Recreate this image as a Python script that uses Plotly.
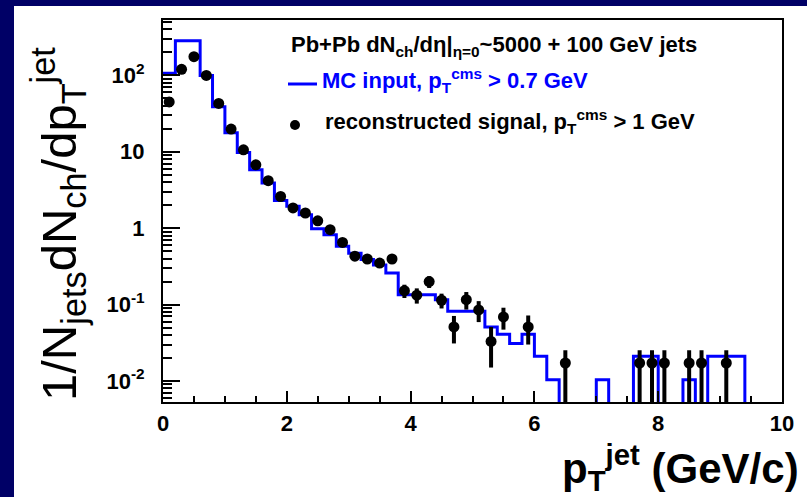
import plotly.graph_objects as go

# ---------------- data ----------------
# MC input histogram (bin low edges, bin width 0.2 GeV/c)
bin_edges = [0.0, 0.2, 0.4, 0.6, 0.8, 1.0, 1.2, 1.4, 1.6, 1.8, 2.0, 2.2, 2.4, 2.6, 2.8,
             3.0, 3.2, 3.4, 3.6, 3.8, 4.0, 4.2, 4.4, 4.6, 4.8, 5.0, 5.2, 5.4, 5.6, 5.8,
             6.0, 6.2, 6.4, 6.6, 6.8, 7.0, 7.2, 7.4, 7.6, 7.8, 8.0, 8.2, 8.4, 8.6, 8.8,
             9.0, 9.2, 9.4]
mc_values = [107, 285, 285, 100, 39, 17.8, 9.8, 5.8, 3.9, 2.3, 1.93, 1.5, 0.98, 0.82, 0.58,
             0.47, 0.39, 0.33, 0.26, 0.135, 0.135, 0.135, 0.116, 0.082, 0.082, 0.082, 0.051,
             0.041, 0.031, 0.041, 0.021, 0.0104, 0, 0, 0, 0.0104, 0, 0, 0.021, 0.021, 0, 0,
             0.0104, 0, 0.021, 0.021, 0.021]

# reconstructed signal points
reco_x = [0.1, 0.3, 0.5, 0.7, 0.9, 1.1, 1.3, 1.5, 1.7, 1.9, 2.1, 2.3, 2.5, 2.7, 2.9,
          3.1, 3.3, 3.5, 3.7, 3.9, 4.1, 4.3, 4.5, 4.7, 4.9, 5.1, 5.3, 5.5, 5.9, 6.5,
          7.7, 7.9, 8.1, 8.5, 8.7, 9.1]
reco_y = [45, 120, 176, 100, 43, 19.8, 10.6, 6.76, 4.18, 2.6, 1.84, 1.58, 1.25, 0.955, 0.65,
          0.43, 0.395, 0.35, 0.395, 0.152, 0.133, 0.2, 0.114, 0.051, 0.116, 0.085, 0.033,
          0.069, 0.051, 0.0172, 0.0172, 0.0172, 0.0172, 0.0172, 0.0172, 0.0172]
reco_err_up = [1, 2, 3, 2, 1, 0.6, 0.4, 0.3, 0.2, 0.15, 0.12, 0.1, 0.09, 0.08, 0.06,
               0.05, 0.05, 0.045, 0.05, 0.03, 0.03, 0.035, 0.025, 0.02, 0.03, 0.026, 0.018,
               0.022, 0.021, 0.008, 0.008, 0.008, 0.008, 0.008, 0.008, 0.008]
reco_err_dn = [1, 2, 3, 2, 1, 0.6, 0.4, 0.3, 0.2, 0.15, 0.12, 0.1, 0.09, 0.08, 0.06,
               0.05, 0.05, 0.045, 0.05, 0.03, 0.03, 0.035, 0.025, 0.02, 0.03, 0.026, 0.018,
               0.022, 0.021, 0.0171, 0.0171, 0.0171, 0.0171, 0.0171, 0.0171, 0.0171]

y_tickvals = [0.01, 0.1, 1, 10, 100]
y_ticktext = ["10<sup>-2</sup>", "10<sup>-1</sup>", "1", "10", "10<sup>2</sup>"]
x_tickvals = [0, 2, 4, 6, 8, 10]
x_ticktext = ["0", "2", "4", "6", "8", "10"]

# ---------------- layout geometry ----------------
W, H = 807, 497
L, R, T, B = 163, 25, 20, 95
PW, PH = W - L - R, H - T - B
NAVY = "#000066"
FONT = "Liberation Sans"


def px(xp):
    return (xp - L) / PW


def py(yp):
    return (H - B - yp) / PH


FLOOR = 1e-4  # empty bins drawn below the frame
hx = list(bin_edges)
hy = [v if v > 0 else FLOOR for v in mc_values] + [FLOOR]

fig = go.Figure()
fig.add_trace(go.Scatter(
    x=hx, y=hy, mode="lines", line=dict(color="#0000ff", width=3, shape="hv"),
    showlegend=False, hoverinfo="skip"))
fig.add_trace(go.Scatter(
    x=reco_x, y=reco_y, mode="markers",
    marker=dict(color="black", size=11, symbol="circle"),
    error_y=dict(type="data", symmetric=False, array=reco_err_up, arrayminus=reco_err_dn,
                 color="black", thickness=4, width=0),
    showlegend=False))

fig.update_layout(
    width=W, height=H,
    margin=dict(l=L, r=R, t=T, b=B, pad=0),
    paper_bgcolor="white", plot_bgcolor="white",
    font=dict(family=FONT, color="black"),
    xaxis=dict(range=[0, 10], showgrid=False, zeroline=False,
               showline=True, linecolor="black", linewidth=2, mirror=True,
               ticks="inside", ticklen=11, tickwidth=2, tickcolor="black",
               tickvals=x_tickvals, ticktext=x_ticktext,
               tickfont=dict(size=22, family=FONT, weight="bold"),
               ticklabelstandoff=1,
               minor=dict(ticks="inside", ticklen=6, tickwidth=2, tickcolor="black", dtick=0.5,
                          showgrid=False)),
    yaxis=dict(type="log", range=[-2.275, 2.725], showgrid=False, zeroline=False,
               showline=True, linecolor="black", linewidth=2, mirror=True,
               ticks="inside", ticklen=17, tickwidth=2, tickcolor="black",
               tickvals=y_tickvals, ticktext=y_ticktext,
               tickfont=dict(size=22, family=FONT, weight="bold"),
               ticklabelstandoff=12,
               minor=dict(ticks="inside", ticklen=9, tickwidth=2, tickcolor="black", dtick="D1",
                          showgrid=False)),
)

# navy border strips
fig.add_shape(type="rect", xref="paper", yref="paper", x0=px(0), x1=px(14), y0=py(H), y1=py(0),
              fillcolor=NAVY, line_width=0, layer="above")
fig.add_shape(type="rect", xref="paper", yref="paper", x0=px(0), x1=px(W), y0=py(6), y1=py(0),
              fillcolor=NAVY, line_width=0, layer="above")

# legend block
fig.add_annotation(xref="paper", yref="paper", x=px(289), y=py(46), xanchor="left", yanchor="middle",
                   showarrow=False,
                   text="Pb+Pb dN<sub>ch</sub>/dη|<sub>η=0</sub>~5000 + 100 GeV jets",
                   font=dict(size=22, family=FONT, weight="bold", color="black"))
fig.add_shape(type="line", xref="paper", yref="paper", x0=px(288), x1=px(317), y0=py(84), y1=py(84),
              line=dict(color="#0000ff", width=3))
fig.add_annotation(xref="paper", yref="paper", x=px(320), y=py(80), xanchor="left", yanchor="middle",
                   showarrow=False,
                   text="MC input, p<sub>T</sub><sup>cms</sup> > 0.7 GeV",
                   font=dict(size=22, family=FONT, weight="bold", color="#0000ff"))
fig.add_shape(type="circle", xref="paper", yref="paper", x0=px(290), x1=px(300), y0=py(120), y1=py(130),
              fillcolor="black", line_width=0)
fig.add_annotation(xref="paper", yref="paper", x=px(323), y=py(121), xanchor="left", yanchor="middle",
                   showarrow=False,
                   text="reconstructed signal, p<sub>T</sub><sup>cms</sup> > 1 GeV",
                   font=dict(size=22, family=FONT, weight="bold", color="black"))

# axis titles
fig.add_annotation(xref="paper", yref="paper", x=px(58), y=py(224), xanchor="center", yanchor="middle",
                   showarrow=False, textangle=-90,
                   text="1/N<sub>jets</sub>dN<sub>ch</sub>/dp<sub>T</sub><sup>jet</sup>",
                   font=dict(size=49, family=FONT, color="black"))
fig.add_annotation(xref="paper", yref="paper", x=px(801), y=py(468), xanchor="right", yanchor="middle",
                   showarrow=False,
                   text="p<sub>T</sub><sup>jet</sup> (GeV/c)",
                   font=dict(size=42, family=FONT, weight="bold", color="black"))

fig.write_html("out.html")
